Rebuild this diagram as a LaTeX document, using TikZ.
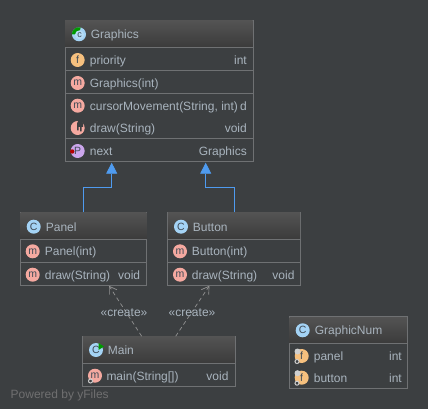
\documentclass[tikz,border=0pt]{standalone}
\usepackage{fontspec}
\setmainfont{Liberation Sans}
\usepackage{xcolor}
\usepackage{tikz}
\usetikzlibrary{arrows.meta, calc}

\definecolor{bgdark}{HTML}{3C3F41}
\definecolor{boxline}{HTML}{6F7173}
\definecolor{headtop}{HTML}{535353}
\definecolor{headbot}{HTML}{3B3B3B}
\definecolor{labeltext}{HTML}{A9B4BE}
\definecolor{inherit}{HTML}{4F9BEF}
\definecolor{ballclass}{HTML}{A4D3F5}
\definecolor{ballmethod}{HTML}{F5A9A0}
\definecolor{ballfield}{HTML}{F6C07E}
\definecolor{ballprop}{HTML}{CBA6EC}
\definecolor{ballink}{HTML}{3F4A55}
\definecolor{badgegray}{HTML}{CFCFCF}

\tikzset{
    classbox/.style={draw=boxline, line width=1pt, minimum width=#1, inner sep=0pt, outer sep=0pt},
    rowline/.style={draw=boxline, line width=1pt},
    leftlabel/.style={anchor=west, inner sep=0pt, text=labeltext, text height=11pt, text depth=2pt, font=\fontsize{12}{14}\selectfont},
    rightlabel/.style={leftlabel, anchor=east},
    iconball/.style={circle, fill=#1, minimum size=14pt, inner sep=0pt, text=ballink, font=\fontsize{10.5}{11}\selectfont},
    inheritline/.style={draw=inherit, line width=0.8pt, -{Triangle[width=11pt,length=11pt,fill=inherit]}},
    createline/.style={draw=gray!85, line width=0.7pt, dash pattern=on 4pt off 3pt, -{Straight Barb[width=9pt,length=7pt]}},
    gearbadge/.style={draw=badgegray, fill=bgdark, line width=1pt, circle, minimum size=4pt, inner sep=0pt},
}

\begin{document}
\begin{tikzpicture}[x=1pt,y=-1pt]
    \useasboundingbox (0,0) rectangle (428,409);
    \fill[bgdark] (0,0) rectangle (428,409);

    % class boxes
    \node[classbox=188pt, minimum height=141pt] (graphics) at (159,91.2) {};
    \node[classbox=126.5pt, minimum height=73pt] (panel) at (83.5,248.8) {};
    \node[classbox=133.4pt, minimum height=73pt] (button) at (234,248.8) {};
    \node[classbox=152.5pt, minimum height=50.5pt] (main) at (159,361.5) {};
    \node[classbox=118pt, minimum height=71.5pt] (graphicnum) at (348.3,352.5) {};

    % header bars
    \shade[top color=headtop, bottom color=headbot] (65,21) rectangle (252.5,47.3);
    \shade[top color=headtop, bottom color=headbot] (20.7,212.7) rectangle (146.3,239.3);
    \shade[top color=headtop, bottom color=headbot] (167.8,212.7) rectangle (300.2,239.3);
    \shade[top color=headtop, bottom color=headbot] (83.2,336.7) rectangle (234.8,363.3);
    \shade[top color=headtop, bottom color=headbot] (289.7,317.2) rectangle (406.8,343.3);

    % row separators
    \draw[rowline] (65,47.3) -- (253,47.3);
    \draw[rowline] (65,70.3) -- (253,70.3);
    \draw[rowline] (65,93.3) -- (253,93.3);
    \draw[rowline] (65,138.3) -- (253,138.3);
    \draw[rowline] (20.3,239.3) -- (146.7,239.3);
    \draw[rowline] (20.3,262.3) -- (146.7,262.3);
    \draw[rowline] (167.3,239.3) -- (300.7,239.3);
    \draw[rowline] (167.3,262.3) -- (300.7,262.3);
    \draw[rowline] (82.8,363.3) -- (235.2,363.3);
    \draw[rowline] (289.3,343.3) -- (407.3,343.3);

    % graphics
    \node[iconball=ballclass] (graphicsIcon) at (79,34.3) {};
    \fill[green!60!black] (graphicsIcon.center) -- (graphicsIcon.west) arc (180:75:7pt) -- cycle;
    \node[iconball=ballclass!80!white, minimum size=9pt, font=\fontsize{9}{10}\selectfont] (graphicsIconIn) at (79.5,34.8) {c};
    \node[leftlabel] (graphicsName) at (90.7,34.3) {Graphics};
    \node[iconball=ballfield] (priorityIcon) at (77.7,60) {f};
    \node[leftlabel] (priorityName) at (89.7,60) {priority};
    \node[rightlabel] (priorityType) at (247,60) {int};
    \node[iconball=ballmethod] (ctorIcon) at (77.7,83) {m};
    \node[leftlabel] (ctorName) at (89.7,83) {Graphics(int)};
    \node[iconball=ballmethod] (cursorIcon) at (77.7,105.7) {m};
    \node[leftlabel] (cursorName) at (89.7,105.7) {cursorMovement(String, int)};
    \node[rightlabel] (cursorType) at (247,105.7) {d};
    \node[iconball=ballmethod] (drawIcon) at (77.7,128) {};
    \fill[bgdark] (77,123.5) arc (180:0:3pt) -- (83,127) -- (81.5,127) -- (81.5,131.5) -- (80,131.5) -- (80,127) -- (78.5,127) -- (78.5,130.5) -- (77,130.5) -- cycle;
    \node[leftlabel] (drawName) at (89.7,128) {draw(String)};
    \node[rightlabel] (drawType) at (247,128) {void};
    \node[iconball=ballprop] (nextIcon) at (77.7,151) {P};
    \fill[red!70!black] (72.2,151.5) circle (2.2pt);
    \node[leftlabel] (nextName) at (89.7,151) {next};
    \node[rightlabel] (nextType) at (247,151) {Graphics};

    % panel
    \node[iconball=ballclass] (panelIcon) at (33.7,226.7) {C};
    \node[leftlabel] (panelName) at (45.7,226.7) {Panel};
    \node[iconball=ballmethod] (panelCtorIcon) at (32.7,251.3) {m};
    \node[leftlabel] (panelCtor) at (44.7,251.3) {Panel(int)};
    \node[iconball=ballmethod] (panelDrawIcon) at (32.7,274.7) {m};
    \node[leftlabel] (panelDraw) at (44.7,274.7) {draw(String)};
    \node[rightlabel] (panelDrawType) at (140.3,274.7) {void};

    % button
    \node[iconball=ballclass] (buttonIcon) at (181,226.7) {C};
    \node[leftlabel] (buttonName) at (192.7,226.7) {Button};
    \node[iconball=ballmethod] (buttonCtorIcon) at (180,251.3) {m};
    \node[leftlabel] (buttonCtor) at (191.7,251.3) {Button(int)};
    \node[iconball=ballmethod] (buttonDrawIcon) at (180,274.7) {m};
    \node[leftlabel] (buttonDraw) at (191.7,274.7) {draw(String)};
    \node[rightlabel] (buttonDrawType) at (294.7,274.7) {void};

    % main
    \node[iconball=ballclass] (mainIcon) at (96,350) {C};
    \fill[green!60!black] (98.5,343) -- (104,346.5) -- (98.5,350) -- cycle;
    \node[leftlabel] (mainName) at (107.7,350) {Main};
    \node[iconball=ballmethod] (mainMethodIcon) at (95,375.7) {m};
    \node[gearbadge] (mainGear) at (90.5,381) {};
    \node[leftlabel] (mainMethod) at (106.3,375.7) {main(String[])};
    \node[rightlabel] (mainType) at (228.7,375.7) {void};

    % graphicnum
    \node[iconball=ballclass] (numIcon) at (302.7,330.3) {C};
    \node[leftlabel] (numName) at (314.7,330.3) {GraphicNum};
    \node[iconball=ballfield] (panelFieldIcon) at (301.7,356) {f};
    \fill[badgegray] (297.5,351.5) circle (3pt);
    \node[gearbadge] (panelFieldGear) at (297,361.5) {};
    \node[leftlabel] (panelField) at (313.7,356) {panel};
    \node[rightlabel] (panelFieldType) at (402,356) {int};
    \node[iconball=ballfield] (buttonFieldIcon) at (301.7,377.7) {f};
    \fill[badgegray] (297.5,373.2) circle (3pt);
    \node[gearbadge] (buttonFieldGear) at (297,383.2) {};
    \node[leftlabel] (buttonField) at (313.7,377.7) {button};
    \node[rightlabel] (buttonFieldType) at (402,377.7) {int};

    % connectors
    \coordinate (panelTip) at ($(graphics.south)+(-47.3,1)$);
    \coordinate (buttonTip) at ($(graphics.south)+(46.7,1)$);
    \draw[inheritline] (panel.north) -- ++(0,-25) -| (panelTip);
    \draw[inheritline] (button.north) -- ++(0,-25) -| (buttonTip);

    \draw[createline] ($(main.north)+(-17.3,0)$) -- ($(panel.south)+(25.5,0.5)$);
    \draw[createline] ($(main.north)+(16.7,0)$) -- ($(button.south)+(-24.7,0.5)$);
    \node[leftlabel, anchor=center] (createLeft) at (124,312) {«create»};
    \node[leftlabel, anchor=center] (createRight) at (192,312) {«create»};

    \node[leftlabel, text=gray!75!bgdark] (poweredBy) at (10.5,393.5) {Powered by yFiles};
\end{tikzpicture}
\end{document}
